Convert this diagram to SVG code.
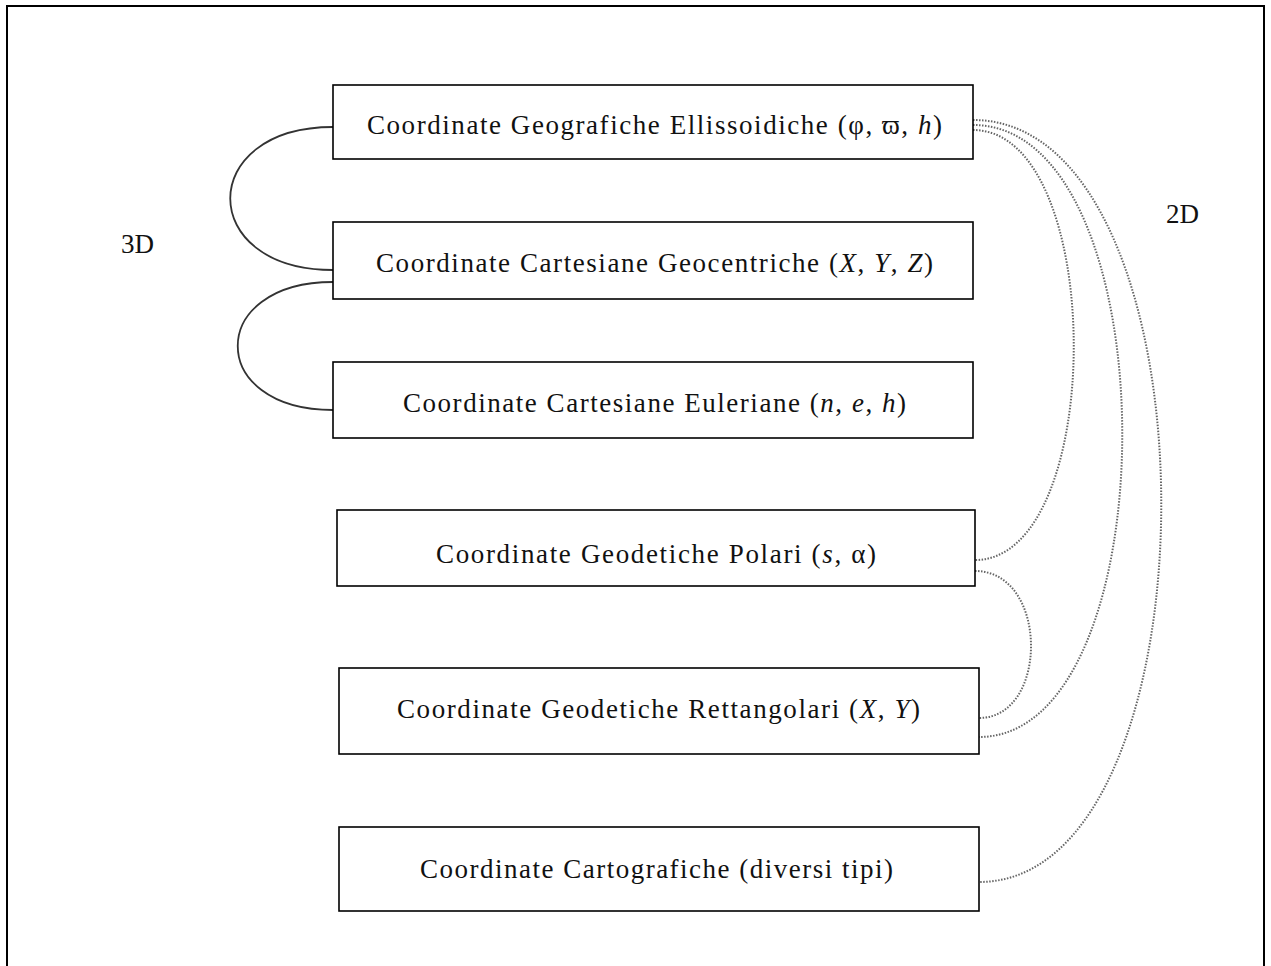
<svg xmlns="http://www.w3.org/2000/svg" width="1271" height="966" viewBox="0 0 1271 966">
<style>
.box{fill:#fff;stroke:#000;stroke-width:1.6}
.lbl{font-family:"Liberation Serif","Times New Roman",serif;font-size:27px;fill:#111;text-anchor:start}
.it{font-style:italic}
.solid{fill:none;stroke:#333;stroke-width:1.8}
.dot{fill:none;stroke:#666;stroke-width:2;stroke-dasharray:1.5 1.5}
</style>
<rect x="0" y="0" width="1271" height="966" fill="#fff"/>
<rect x="7" y="6" width="1257" height="980" fill="none" stroke="#000" stroke-width="2"/>
<g id="connectors">
<path class="solid" d="M333,127 C196,127 196,270 333,270"/>
<path class="solid" d="M333,282 C206,282 206,410 333,410"/>
<path class="dot" d="M973,130 C1107,130 1107,560 975,560"/>
<path class="dot" d="M973,125 C1171,125 1171,737 979,737"/>
<path class="dot" d="M973,120 C1223,120 1223,882 979,882"/>
<path class="dot" d="M975,571 C1049,571 1049,718 979,718"/>
</g>
<g id="n1">
<rect class="box" x="333" y="85" width="640" height="74"/>
<text class="lbl" x="367" y="134" textLength="575" lengthAdjust="spacing">Coordinate Geografiche Ellissoidiche (φ, ϖ, <tspan class="it">h</tspan>)</text>
</g>
<g id="n2">
<rect class="box" x="333" y="222" width="640" height="77"/>
<text class="lbl" x="376" y="272" textLength="557" lengthAdjust="spacing">Coordinate Cartesiane Geocentriche (<tspan class="it">X</tspan>, <tspan class="it">Y</tspan>, <tspan class="it">Z</tspan>)</text>
</g>
<g id="n3">
<rect class="box" x="333" y="362" width="640" height="76"/>
<text class="lbl" x="403" y="412" textLength="503" lengthAdjust="spacing">Coordinate Cartesiane Euleriane (<tspan class="it">n</tspan>, <tspan class="it">e</tspan>, <tspan class="it">h</tspan>)</text>
</g>
<g id="n4">
<rect class="box" x="337" y="510" width="638" height="76"/>
<text class="lbl" x="436" y="563" textLength="440" lengthAdjust="spacing">Coordinate Geodetiche Polari (<tspan class="it">s</tspan>, α)</text>
</g>
<g id="n5">
<rect class="box" x="339" y="668" width="640" height="86"/>
<text class="lbl" x="397" y="718" textLength="523" lengthAdjust="spacing">Coordinate Geodetiche Rettangolari (<tspan class="it">X</tspan>, <tspan class="it">Y</tspan>)</text>
</g>
<g id="n6">
<rect class="box" x="339" y="827" width="640" height="84"/>
<text class="lbl" x="420" y="878" textLength="473" lengthAdjust="spacing">Coordinate Cartografiche (diversi tipi)</text>
</g>
<g id="labels">
<text class="lbl" x="121" y="253">3D</text>
<text class="lbl" x="1166" y="223">2D</text>
</g>
</svg>
